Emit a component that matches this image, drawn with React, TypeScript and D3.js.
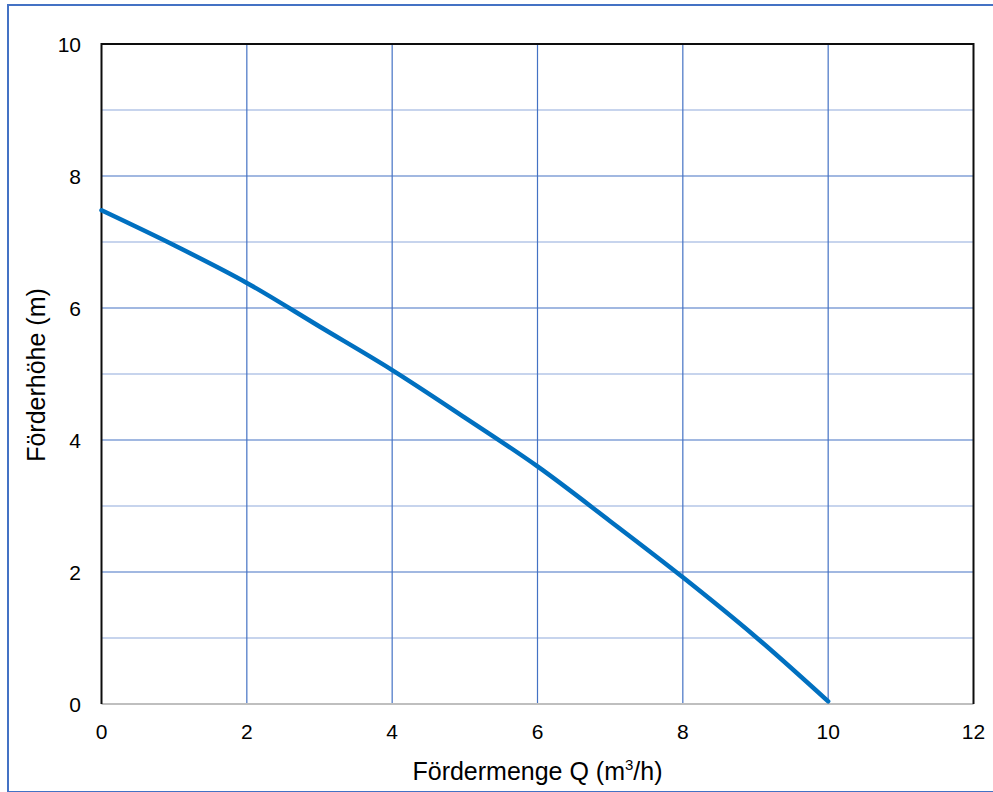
import React from "react";
import * as d3 from "d3";

const flowQ = [0, 1, 2, 3, 4, 5, 6, 7, 8, 9, 10];
const headH = [7.48, 6.95, 6.38, 5.72, 5.06, 4.34, 3.6, 2.77, 1.92, 1.02, 0.04];
const xTicks = [0, 2, 4, 6, 8, 10, 12];
const yTicks = [0, 2, 4, 6, 8, 10];
const yMinor = [1, 3, 5, 7, 9];
const xTitle = "Fördermenge Q (m";
const yTitle = "Förderhöhe (m)";

export default function App() {
  const W = 993, H = 792;
  const left = 101.5, right = 973.5, top = 44, bottom = 704;
  const x = d3.scaleLinear().domain([0, 12]).range([left, right]);
  const y = d3.scaleLinear().domain([0, 10]).range([bottom, top]);
  const line = d3
    .line<number>()
    .x((_, i) => x(flowQ[i]))
    .y((d) => y(d))
    .curve(d3.curveCatmullRom);
  const font = "'Liberation Sans', Arial, sans-serif";
  return (
    <svg
      width={W}
      height={H}
      style={{ position: "absolute", left: 0, top: 0, background: "#fff" }}
      fontFamily={font}
    >
      <rect x={8} y={5} width={1100} height={787} fill="#fff" stroke="#4472C4" strokeWidth={2} />
      {yMinor.map((v) => (
        <line key={"m" + v} x1={left} x2={right} y1={y(v)} y2={y(v)} stroke="#8FAADC" strokeWidth={1.2} />
      ))}
      {yTicks.filter((v) => v > 0 && v < 10).map((v) => (
        <line key={"gy" + v} x1={left} x2={right} y1={y(v)} y2={y(v)} stroke="#4472C4" strokeWidth={1.2} />
      ))}
      {xTicks.filter((v) => v > 0 && v < 12).map((v) => (
        <line key={"gx" + v} x1={x(v)} x2={x(v)} y1={top} y2={bottom} stroke="#4472C4" strokeWidth={1.2} />
      ))}
      <line x1={left} x2={right} y1={bottom} y2={bottom} stroke="#BFBFBF" strokeWidth={2} />
      <path
        d={`M${left},${bottom}V${top}H${right}V${bottom}`}
        fill="none"
        stroke="#0D0D0D"
        strokeWidth={2}
      />
      <path d={line(headH) || ""} fill="none" stroke="#0070C0" strokeWidth={4.5} strokeLinecap="round" />
      {xTicks.map((v) => (
        <text key={"tx" + v} x={x(v)} y={739} textAnchor="middle" fontSize={21} fill="#000">
          {v}
        </text>
      ))}
      {yTicks.map((v) => (
        <text key={"ty" + v} x={81} y={y(v) + 7.5} textAnchor="end" fontSize={21} fill="#000">
          {v}
        </text>
      ))}
      <text x={(left + right) / 2} y={780} textAnchor="middle" fontSize={25} fill="#000">
        {xTitle}
        <tspan fontSize={15} dy={-10}>3</tspan>
        <tspan dy={10}>/h)</tspan>
      </text>
      <text
        transform={`translate(45,375) rotate(-90)`}
        textAnchor="middle"
        fontSize={25}
        fill="#000"
      >
        {yTitle}
      </text>
    </svg>
  );
}
